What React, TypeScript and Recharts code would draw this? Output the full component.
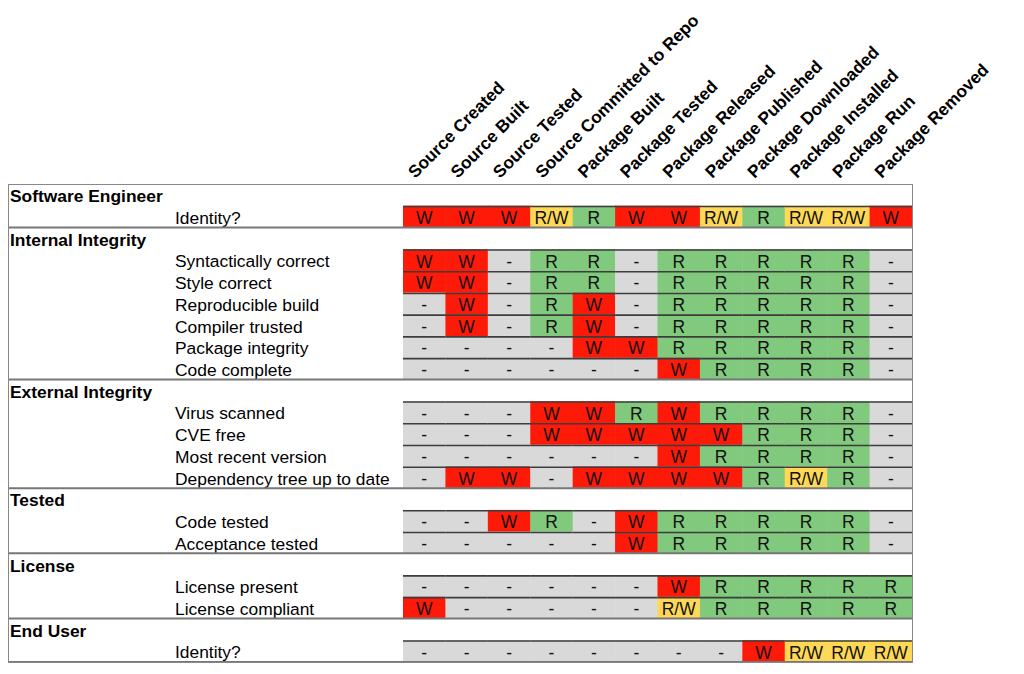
import { Bar, BarChart, LabelList, XAxis, YAxis } from "recharts";

const stages = [
  "Source Created",
  "Source Built",
  "Source Tested",
  "Source Committed to Repo",
  "Package Built",
  "Package Tested",
  "Package Released",
  "Package Published",
  "Package Downloaded",
  "Package Installed",
  "Package Run",
  "Package Removed",
];

const groupNames = [
  "Software Engineer",
  "Internal Integrity",
  "External Integrity",
  "Tested",
  "License",
  "End User",
];

const checkLabels = [
  ["Identity?"],
  [
    "Syntactically correct",
    "Style correct",
    "Reproducible build",
    "Compiler trusted",
    "Package integrity",
    "Code complete",
  ],
  ["Virus scanned", "CVE free", "Most recent version", "Dependency tree up to date"],
  ["Code tested", "Acceptance tested"],
  ["License present", "License compliant"],
  ["Identity?"],
];

const checkStatus = [
  [["W", "W", "W", "R/W", "R", "W", "W", "R/W", "R", "R/W", "R/W", "W"]],
  [
    ["W", "W", "-", "R", "R", "-", "R", "R", "R", "R", "R", "-"],
    ["W", "W", "-", "R", "R", "-", "R", "R", "R", "R", "R", "-"],
    ["-", "W", "-", "R", "W", "-", "R", "R", "R", "R", "R", "-"],
    ["-", "W", "-", "R", "W", "-", "R", "R", "R", "R", "R", "-"],
    ["-", "-", "-", "-", "W", "W", "R", "R", "R", "R", "R", "-"],
    ["-", "-", "-", "-", "-", "-", "W", "R", "R", "R", "R", "-"],
  ],
  [
    ["-", "-", "-", "W", "W", "R", "W", "R", "R", "R", "R", "-"],
    ["-", "-", "-", "W", "W", "W", "W", "W", "R", "R", "R", "-"],
    ["-", "-", "-", "-", "-", "-", "W", "R", "R", "R", "R", "-"],
    ["-", "W", "W", "-", "W", "W", "W", "W", "R", "R/W", "R", "-"],
  ],
  [
    ["-", "-", "W", "R", "-", "W", "R", "R", "R", "R", "R", "-"],
    ["-", "-", "-", "-", "-", "W", "R", "R", "R", "R", "R", "-"],
  ],
  [
    ["-", "-", "-", "-", "-", "-", "W", "R", "R", "R", "R", "R"],
    ["W", "-", "-", "-", "-", "-", "R/W", "R", "R", "R", "R", "R"],
  ],
  [["-", "-", "-", "-", "-", "-", "-", "-", "W", "R/W", "R/W", "R/W"]],
];

const statusFill: Record<string, string> = {
  W: "#fe1a08",
  R: "#80c97d",
  "R/W": "#ffd955",
  "-": "#d9d9d9",
};

const FONT = "'Liberation Sans', Arial, sans-serif";
const CHART_W = 1000;
const CHART_H = 660;
const LABEL_W = 395;
const TOP_H = 176;
const PLOT_R = 904;

// flatten groups into table rows (header row + one row per check)
type Row = { key: string; label: string; header: boolean; groupEnd: boolean; [k: string]: any };
const rows: Row[] = [];
groupNames.forEach((g, gi) => {
  rows.push({ key: String(rows.length), label: g, header: true, groupEnd: false });
  checkLabels[gi].forEach((label, ci) => {
    const row: Row = {
      key: String(rows.length),
      label,
      header: false,
      groupEnd: ci === checkLabels[gi].length - 1,
    };
    checkStatus[gi][ci].forEach((s, j) => {
      row[`c${j}`] = 1;
      row[`s${j}`] = s;
    });
    rows.push(row);
  });
});

const bandH = (CHART_H - 6 - TOP_H) / rows.length;

const cellShape = (j: number) => (props: any) => {
  const { x, y, width, height, payload } = props;
  if (!width || !height) return <g />;
  const s = payload[`s${j}`];
  return (
    <g>
      <rect x={x} y={y} width={width + 0.5} height={height} fill={statusFill[s]} />
      <line x1={x} x2={x + width + 0.5} y1={y + 0.8} y2={y + 0.8} stroke="#3c3c3c" strokeWidth={1.6} />
    </g>
  );
};

const cellLabel = (props: any) => {
  const { x, y, width, height, value } = props;
  if (!value) return null;
  return (
    <text
      x={x + width / 2}
      y={y + height / 2}
      dy="0.42em"
      textAnchor="middle"
      fontFamily={FONT}
      fontSize={17.5}
      fill="#111"
    >
      {value}
    </text>
  );
};

const RowTick = (props: any) => {
  const { y, payload } = props;
  const row = rows[Number(payload.value)];
  if (!row) return null;
  return (
    <g>
      <text
        x={row.header ? 2 : 167}
        y={y}
        dy="0.42em"
        fontFamily={FONT}
        fontSize={17.4}
        fontWeight={row.header ? 700 : 400}
        fill="#000"
      >
        {row.label}
      </text>
      {row.groupEnd && (
        <line x1={0} x2={PLOT_R} y1={y + bandH / 2} y2={y + bandH / 2} stroke="#777" strokeWidth={2} />
      )}
    </g>
  );
};

const StageTick = (props: any) => {
  const { x, payload } = props;
  const ax = x - 9;
  const ay = TOP_H - 5;
  return (
    <text
      x={ax}
      y={ay}
      transform={`rotate(-45 ${ax} ${ay})`}
      fontFamily={FONT}
      fontSize={17.3}
      fontWeight={700}
      fill="#000"
      textAnchor="start"
    >
      {stages[Math.floor(payload.value)]}
    </text>
  );
};

export default function App() {
  return (
    <div style={{ position: "relative", width: CHART_W, height: CHART_H }}>
      <BarChart
        width={CHART_W}
        height={CHART_H}
        data={rows}
        layout="vertical"
        barCategoryGap={0}
        barGap={0}
        margin={{ top: 0, right: CHART_W - PLOT_R, bottom: 6, left: 0 }}
      >
        <XAxis
          type="number"
          orientation="top"
          domain={[0, stages.length]}
          ticks={stages.map((_, i) => i + 0.5)}
          interval={0}
          height={TOP_H}
          axisLine={false}
          tickLine={false}
          tick={<StageTick />}
        />
        <YAxis
          type="category"
          dataKey="key"
          width={LABEL_W}
          interval={0}
          axisLine={false}
          tickLine={false}
          tick={<RowTick />}
        />
        {stages.map((_, j) => (
          <Bar
            key={j}
            dataKey={`c${j}`}
            stackId="grid"
            isAnimationActive={false}
            shape={cellShape(j)}
          >
            <LabelList dataKey={`s${j}`} content={cellLabel} />
          </Bar>
        ))}
      </BarChart>
      <div
        style={{
          position: "absolute",
          left: 0,
          top: TOP_H,
          width: PLOT_R - 1,
          height: CHART_H - 6 - TOP_H - 1,
          border: "1px solid #888",
          pointerEvents: "none",
        }}
      />
    </div>
  );
}
